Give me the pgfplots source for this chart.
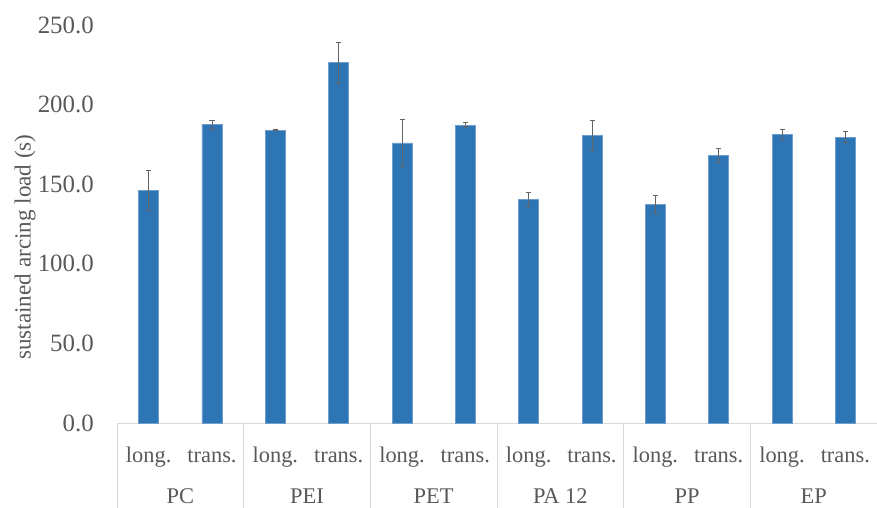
\documentclass[border=0pt]{standalone}
\usepackage{pgfplots}
\pgfplotsset{compat=1.18}
\usepackage{fontspec}
\setmainfont{Liberation Serif}
\definecolor{barblue}{RGB}{46,117,182}
\definecolor{txtgray}{RGB}{89,89,89}
\definecolor{errgray}{RGB}{100,100,100}
\definecolor{linegray}{RGB}{217,217,217}
\newcommand{\cfont}{\fontsize{22.5}{27}\selectfont}
\newcommand{\tfont}{\fontsize{25}{30}\selectfont}
\newcommand{\lfont}{\fontsize{23.2}{28}\selectfont}
\tikzset{grp/.style={font=\cfont, text=txtgray, anchor=base, inner sep=0pt}}
\begin{document}
\begin{tikzpicture}
\begin{axis}[
  scale only axis,
  width=760bp, height=398bp,
  xmin=-0.5, xmax=11.5,
  ymin=0, ymax=250,
  clip=false,
  axis line style={draw=none},
  ytick={0,50,100,150,200,250},
  xtick={0,1,2,3,4,5,6,7,8,9,10,11},
  xticklabels={long.,trans.,long.,trans.,long.,trans.,long.,trans.,long.,trans.,long.,trans.},
  major tick length=0pt,
  tick style={draw=none},
  /pgf/number format/assume math mode=true,
  yticklabel style={/pgf/number format/fixed,/pgf/number format/fixed zerofill,/pgf/number format/precision=1,
    font=\tfont, text=txtgray, anchor=east, inner sep=0pt, xshift=-23bp},
  xticklabel style={font=\cfont, text=txtgray, anchor=base, inner sep=0pt, yshift=-39bp},
  ylabel={sustained arcing load (s)},
  ylabel style={font=\lfont, text=txtgray, at={(axis description cs:-0.121,0.442)}, anchor=center},
]
\coordinate (bl) at (rel axis cs:0,0);
\coordinate (tr) at (rel axis cs:1,1);
\draw[linegray, line width=0.8bp] (axis cs:-0.5,0) -- (axis cs:11.5,0);
\pgfplotsinvokeforeach{-0.5,1.5,3.5,5.5,7.5,9.5,11.5}{
  \draw[linegray, line width=0.8bp] (axis cs:#1,0) -- ([yshift=-85bp]axis cs:#1,0);
}
\addplot[ybar, bar width=20bp, fill=barblue, draw=barblue!70!white, line width=0.5bp,
  error bars/.cd, y dir=both, y explicit, error mark=-,
  error bar style={errgray, line width=0.8bp},
  error mark options={errgray, rotate=90, line width=0.8bp, mark size=2.5bp}]
coordinates {
  (0,146.2) +- (0,12.5)
  (1,187.4) +- (0,2.9)
  (2,184.0) +- (0,0.5)
  (3,226.3) +- (0,13.0)
  (4,175.9) +- (0,15.0)
  (5,187.0) +- (0,1.6)
  (6,140.5) +- (0,4.5)
  (7,180.9) +- (0,9.4)
  (8,137.1) +- (0,5.7)
  (9,168.1) +- (0,4.4)
  (10,181.5) +- (0,3.1)
  (11,179.6) +- (0,3.4)
};
\node[grp] at ([yshift=-80bp]axis cs:0.5,0) {PC};
\node[grp] at ([yshift=-80bp]axis cs:2.5,0) {PEI};
\node[grp] at ([yshift=-80bp]axis cs:4.5,0) {PET};
\node[grp] at ([yshift=-80bp]axis cs:6.5,0) {PA 12};
\node[grp] at ([yshift=-80bp]axis cs:8.5,0) {PP};
\node[grp] at ([yshift=-80bp]axis cs:10.5,0) {EP};
\end{axis}
\pgfresetboundingbox
\path ([xshift=-117bp,yshift=-85bp]bl) rectangle ([yshift=25bp]tr);
\end{tikzpicture}
\end{document}
